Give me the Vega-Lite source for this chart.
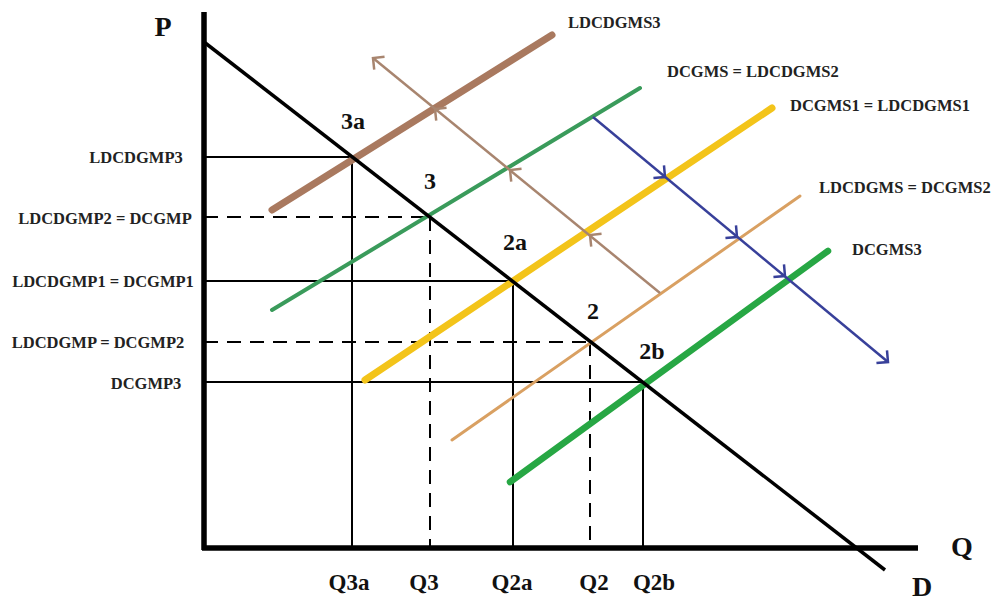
{
  "$schema": "https://vega.github.io/schema/vega-lite/v6.json",
  "width": 995,
  "height": 603,
  "padding": 0,
  "autosize": {"type": "none"},
  "background": "white",
  "config": {"view": {"stroke": null}, "text": {"font": "Liberation Serif", "fontWeight": "bold", "baseline": "middle"}},
  "datasets": {
    "segs": [
      {"kind": "axis", "id": "Paxis", "q1": 0, "p1": -2, "q2": 0, "p2": 536},
      {"kind": "axis", "id": "Qaxis", "q1": -2, "p1": 0, "q2": 714, "p2": 0},
      {"kind": "demand", "id": "D", "q1": 0, "p1": 506, "q2": 681, "p2": -22},
      {"kind": "guide", "id": "P3a_h", "q1": 0, "p1": 391, "q2": 148, "p2": 391},
      {"kind": "guide", "id": "P3a_v", "q1": 148, "p1": 391, "q2": 148, "p2": 0},
      {"kind": "guide", "id": "P2a_h", "q1": 0, "p1": 267, "q2": 309, "p2": 267},
      {"kind": "guide", "id": "P2a_v", "q1": 309, "p1": 267, "q2": 309, "p2": 0},
      {"kind": "guide", "id": "P2b_h", "q1": 0, "p1": 166, "q2": 439, "p2": 166},
      {"kind": "guide", "id": "P2b_v", "q1": 439, "p1": 166, "q2": 439, "p2": 0},
      {"kind": "dash", "id": "P3_h", "q1": 0, "p1": 331, "q2": 226, "p2": 331},
      {"kind": "dash", "id": "P3_v", "q1": 226, "p1": 331, "q2": 226, "p2": 0},
      {"kind": "dash", "id": "P2_h", "q1": 0, "p1": 206, "q2": 386, "p2": 206},
      {"kind": "dash", "id": "P2_v", "q1": 386, "p1": 206, "q2": 386, "p2": 0},
      {"kind": "supply", "id": "LDCDGMS3", "q1": 68, "p1": 338, "q2": 348, "p2": 513},
      {"kind": "supply", "id": "DCGMS", "q1": 68, "p1": 238, "q2": 436, "p2": 460},
      {"kind": "supply", "id": "DCGMS1", "q1": 161, "p1": 168, "q2": 568, "p2": 440},
      {"kind": "supply", "id": "LDCDGMS", "q1": 248, "p1": 108, "q2": 596, "p2": 352},
      {"kind": "supply", "id": "DCGMS3", "q1": 306, "p1": 66, "q2": 624, "p2": 297},
      {"kind": "arrow", "id": "brownArrow", "q1": 456, "p1": 255, "q2": 169, "p2": 490},
      {"kind": "arrow", "id": "blueArrow", "q1": 389, "p1": 431, "q2": 684, "p2": 186}
    ],
    "heads": [
      {"id": "brownArrow", "q": 231, "p": 439},
      {"id": "brownArrow", "q": 306, "p": 378},
      {"id": "brownArrow", "q": 386, "p": 313},
      {"id": "brownArrow", "q": 169, "p": 490},
      {"id": "blueArrow", "q": 461, "p": 371},
      {"id": "blueArrow", "q": 533, "p": 311},
      {"id": "blueArrow", "q": 581, "p": 272},
      {"id": "blueArrow", "q": 684, "p": 186}
    ],
    "labels": [
      {"kind": "big", "text": "P", "q": -41, "p": 520},
      {"kind": "big", "text": "Q", "q": 758, "p": 0},
      {"kind": "big", "text": "D", "q": 718, "p": -40},
      {"kind": "pt", "text": "3a", "q": 149, "p": 426},
      {"kind": "pt", "text": "3", "q": 226, "p": 366},
      {"kind": "pt", "text": "2a", "q": 311, "p": 305},
      {"kind": "pt", "text": "2", "q": 389, "p": 236},
      {"kind": "pt", "text": "2b", "q": 448, "p": 196},
      {"kind": "qlab", "text": "Q3a", "q": 145, "p": -35},
      {"kind": "qlab", "text": "Q3", "q": 220, "p": -35},
      {"kind": "qlab", "text": "Q2a", "q": 308, "p": -35},
      {"kind": "qlab", "text": "Q2", "q": 390, "p": -35},
      {"kind": "qlab", "text": "Q2b", "q": 450, "p": -35},
      {"kind": "plab", "text": "LDCDGMP3", "q": -68, "p": 390},
      {"kind": "plab", "text": "LDCDGMP2 = DCGMP", "q": -99, "p": 329},
      {"kind": "plab", "text": "LDCDGMP1 = DCGMP1", "q": -101, "p": 266},
      {"kind": "plab", "text": "LDCDGMP = DCGMP2", "q": -106, "p": 205},
      {"kind": "plab", "text": "DCGMP3", "q": -58, "p": 164},
      {"kind": "slab", "text": "LDCDGMS3", "q": 364, "p": 525},
      {"kind": "slab", "text": "DCGMS = LDCDGMS2", "q": 463, "p": 476},
      {"kind": "slab", "text": "DCGMS1 = LDCDGMS1", "q": 586, "p": 442},
      {"kind": "slab", "text": "LDCDGMS = DCGMS2", "q": 615, "p": 360},
      {"kind": "slab", "text": "DCGMS3", "q": 648, "p": 298}
    ]
  },
  "encoding": {
    "x": {"type": "quantitative", "scale": {"domain": [-204, 791], "nice": false, "zero": false}, "axis": null},
    "y": {"type": "quantitative", "scale": {"domain": [-55, 548], "nice": false, "zero": false}, "axis": null}
  },
  "layer": [
    {
      "data": {"name": "segs"},
      "transform": [{"filter": "datum.kind === 'guide'"}],
      "mark": {"type": "rule", "color": "black", "strokeWidth": 2},
      "encoding": {"x": {"field": "q1"}, "y": {"field": "p1"}, "x2": {"field": "q2"}, "y2": {"field": "p2"}}
    },
    {
      "data": {"name": "segs"},
      "transform": [{"filter": "datum.kind === 'dash'"}],
      "mark": {"type": "rule", "color": "black", "strokeWidth": 2, "strokeDash": [14, 9]},
      "encoding": {"x": {"field": "q1"}, "y": {"field": "p1"}, "x2": {"field": "q2"}, "y2": {"field": "p2"}}
    },
    {
      "data": {"name": "segs"},
      "transform": [{"filter": "datum.id === 'LDCDGMS3'"}],
      "mark": {"type": "rule", "strokeCap": "round", "color": "#a9795f", "strokeWidth": 7},
      "encoding": {"x": {"field": "q1"}, "y": {"field": "p1"}, "x2": {"field": "q2"}, "y2": {"field": "p2"}}
    },
    {
      "data": {"name": "segs"},
      "transform": [{"filter": "datum.id === 'DCGMS'"}],
      "mark": {"type": "rule", "strokeCap": "round", "color": "#3a9b5b", "strokeWidth": 4},
      "encoding": {"x": {"field": "q1"}, "y": {"field": "p1"}, "x2": {"field": "q2"}, "y2": {"field": "p2"}}
    },
    {
      "data": {"name": "segs"},
      "transform": [{"filter": "datum.id === 'DCGMS1'"}],
      "mark": {"type": "rule", "strokeCap": "round", "color": "#f3c41a", "strokeWidth": 7},
      "encoding": {"x": {"field": "q1"}, "y": {"field": "p1"}, "x2": {"field": "q2"}, "y2": {"field": "p2"}}
    },
    {
      "data": {"name": "segs"},
      "transform": [{"filter": "datum.id === 'LDCDGMS'"}],
      "mark": {"type": "rule", "strokeCap": "round", "color": "#d9a062", "strokeWidth": 3},
      "encoding": {"x": {"field": "q1"}, "y": {"field": "p1"}, "x2": {"field": "q2"}, "y2": {"field": "p2"}}
    },
    {
      "data": {"name": "segs"},
      "transform": [{"filter": "datum.id === 'DCGMS3'"}],
      "mark": {"type": "rule", "strokeCap": "round", "color": "#27a744", "strokeWidth": 6.5},
      "encoding": {"x": {"field": "q1"}, "y": {"field": "p1"}, "x2": {"field": "q2"}, "y2": {"field": "p2"}}
    },
    {
      "data": {"name": "segs"},
      "transform": [{"filter": "datum.id === 'brownArrow'"}],
      "mark": {"type": "rule", "strokeWidth": 2.5, "color": "#a8856f"},
      "encoding": {"x": {"field": "q1"}, "y": {"field": "p1"}, "x2": {"field": "q2"}, "y2": {"field": "p2"}}
    },
    {
      "data": {"name": "segs"},
      "transform": [{"filter": "datum.id === 'blueArrow'"}],
      "mark": {"type": "rule", "strokeWidth": 2.5, "color": "#38409a"},
      "encoding": {"x": {"field": "q1"}, "y": {"field": "p1"}, "x2": {"field": "q2"}, "y2": {"field": "p2"}}
    },
    {
      "data": {"name": "heads"},
      "transform": [{"filter": "datum.id === 'brownArrow'"}],
      "mark": {"type": "point", "shape": "M-0.7,0.7L0,0L0.7,0.7", "filled": false, "strokeWidth": 2.5, "size": 550, "angle": 309, "color": "#a8856f", "opacity": 1},
      "encoding": {"x": {"field": "q"}, "y": {"field": "p"}}
    },
    {
      "data": {"name": "heads"},
      "transform": [{"filter": "datum.id === 'blueArrow'"}],
      "mark": {"type": "point", "shape": "M-0.7,0.7L0,0L0.7,0.7", "filled": false, "strokeWidth": 2.5, "size": 550, "angle": 130, "color": "#38409a", "opacity": 1},
      "encoding": {"x": {"field": "q"}, "y": {"field": "p"}}
    },
    {
      "data": {"name": "segs"},
      "transform": [{"filter": "datum.kind === 'demand'"}],
      "mark": {"type": "rule", "color": "black", "strokeWidth": 3.5},
      "encoding": {"x": {"field": "q1"}, "y": {"field": "p1"}, "x2": {"field": "q2"}, "y2": {"field": "p2"}}
    },
    {
      "data": {"name": "segs"},
      "transform": [{"filter": "datum.kind === 'axis'"}],
      "mark": {"type": "rule", "color": "black", "strokeWidth": 5.5},
      "encoding": {"x": {"field": "q1"}, "y": {"field": "p1"}, "x2": {"field": "q2"}, "y2": {"field": "p2"}}
    },
    {
      "data": {"name": "labels"},
      "transform": [{"filter": "datum.kind === 'big'"}],
      "mark": {"type": "text", "fontSize": 28, "align": "center", "color": "#111"},
      "encoding": {"x": {"field": "q"}, "y": {"field": "p"}, "text": {"field": "text"}}
    },
    {
      "data": {"name": "labels"},
      "transform": [{"filter": "datum.kind === 'pt'"}],
      "mark": {"type": "text", "fontSize": 24, "align": "center", "color": "#111"},
      "encoding": {"x": {"field": "q"}, "y": {"field": "p"}, "text": {"field": "text"}}
    },
    {
      "data": {"name": "labels"},
      "transform": [{"filter": "datum.kind === 'qlab'"}],
      "mark": {"type": "text", "fontSize": 23, "align": "center", "color": "#111"},
      "encoding": {"x": {"field": "q"}, "y": {"field": "p"}, "text": {"field": "text"}}
    },
    {
      "data": {"name": "labels"},
      "transform": [{"filter": "datum.kind === 'plab'"}],
      "mark": {"type": "text", "fontSize": 16.5, "align": "center", "color": "#222"},
      "encoding": {"x": {"field": "q"}, "y": {"field": "p"}, "text": {"field": "text"}}
    },
    {
      "data": {"name": "labels"},
      "transform": [{"filter": "datum.kind === 'slab'"}],
      "mark": {"type": "text", "fontSize": 16.5, "align": "left", "color": "#222"},
      "encoding": {"x": {"field": "q"}, "y": {"field": "p"}, "text": {"field": "text"}}
    }
  ]
}
